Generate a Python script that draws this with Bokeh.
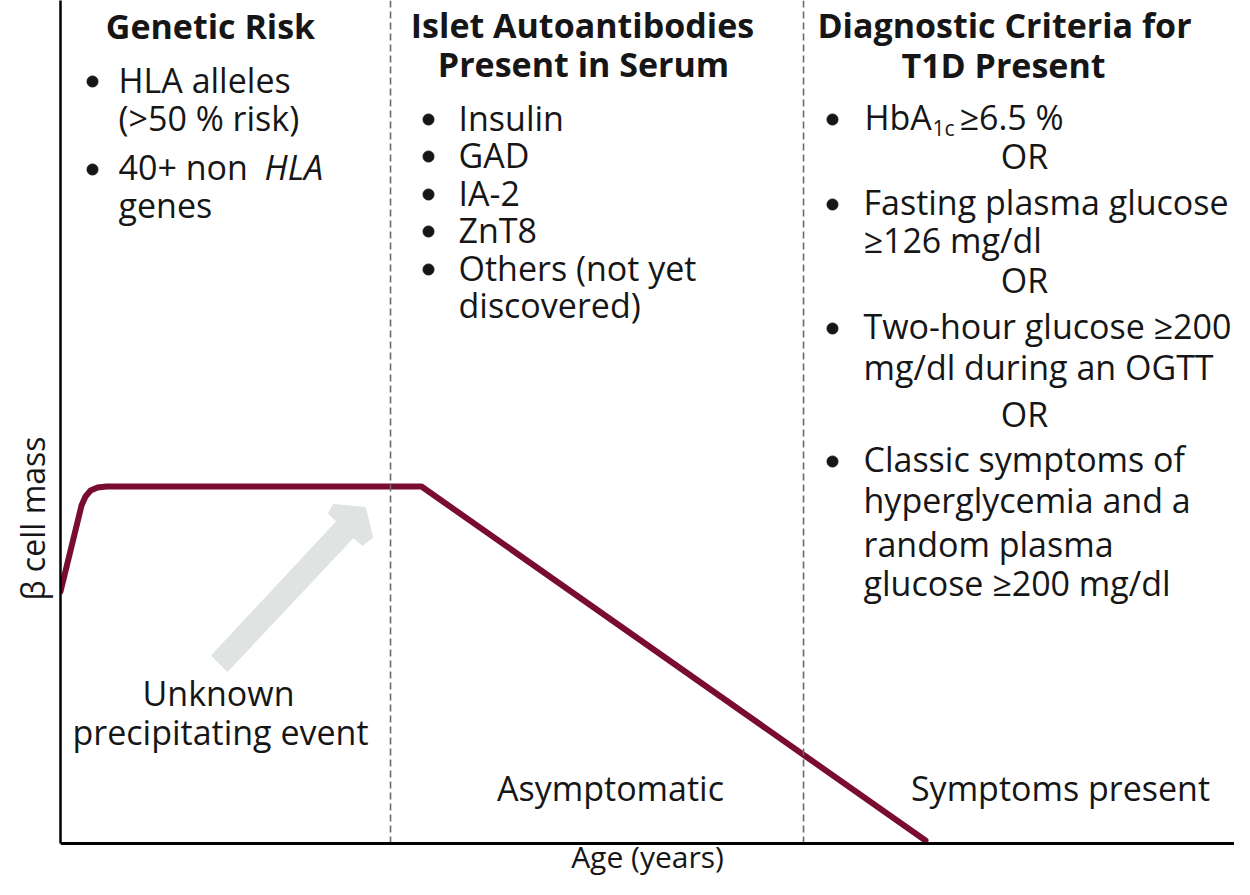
from bokeh.plotting import figure
from bokeh.models import Range1d, FixedTicker, Title
from bokeh.core.properties import value
from bokeh.embed import file_html
from bokeh.resources import INLINE

# ---------------- data (age and beta-cell mass in % of axis length) ----------------
curve_age = [0.0, 1.79, 2.13, 2.56, 3.15, 3.92, 30.75, 73.68]
curve_mass = [29.89, 40.09, 41.16, 41.87, 42.23, 42.35, 42.35, 0.36]

phase_boundaries = [28.11, 63.29]

arrow_age = [12.86, 23.51, 22.83, 23.25, 25.98, 26.58, 25.72, 24.96, 14.22]
arrow_mass = [22.30, 38.20, 39.15, 40.21, 39.86, 36.30, 35.35, 36.30, 20.40]

heading_genetic = ["Genetic Risk"]
heading_auto = ["Islet Autoantibodies", "Present in Serum"]
heading_diag = ["Diagnostic Criteria for", "T1D Present"]

genetic_lines = ["HLA alleles", "(>50 % risk)", "40+ non", "genes"]
genetic_italic = "HLA"
auto_lines = ["Insulin", "GAD", "IA-2", "ZnT8", "Others (not yet", "discovered)"]
diag_hba = ["HbA", "1c", "≥6.5 %"]
diag_lines = ["Fasting plasma glucose", "≥126 mg/dl", "Two-hour glucose ≥200",
              "mg/dl during an OGTT", "Classic symptoms of", "hyperglycemia and a",
              "random plasma", "glucose ≥200 mg/dl"]
or_text = "OR"
event_lines = ["Unknown", "precipitating event"]
phase_labels = ["Asymptomatic", "Symptoms present"]
x_label = "Age (years)"
y_label = "β cell mass"

# ---------------- layout helpers (pixel -> data) ----------------
def X(px):
    return (px - 60) / 11.74

def Y(py):
    return (843 - py) / 8.43

FONT = "Open Sans"
TXT = "#161616"
FS = 34

p = figure(width=1234, height=879, x_range=Range1d(0, 100), y_range=Range1d(Y(879), 100),
           output_backend="svg", toolbar_location=None,
           min_border_left=60, min_border_right=0, min_border_top=0, min_border_bottom=0)
p.outline_line_color = None
p.xgrid.grid_line_color = None
p.ygrid.grid_line_color = None
p.background_fill_color = "white"
p.border_fill_color = "white"

for ax in (p.xaxis, p.yaxis):
    ax.ticker = FixedTicker(ticks=[])
    ax.major_tick_line_color = None
    ax.minor_tick_line_color = None
    ax.major_tick_out = 0
    ax.major_tick_in = 0
    ax.minor_tick_out = 0
    ax.minor_tick_in = 0
    ax.major_label_text_font_size = "0px"
    ax.axis_line_color = "black"

p.xaxis.fixed_location = 0
p.xaxis.axis_line_width = 3
p.xaxis.axis_label = x_label
p.xaxis.axis_label_text_font = FONT
p.xaxis.axis_label_text_font_size = "30px"
p.xaxis.axis_label_text_font_style = "normal"
p.xaxis.axis_label_text_color = TXT
p.xaxis.axis_label_standoff = -8

p.yaxis.bounds = (0, 100)
p.yaxis.axis_line_width = 2.5

p.add_layout(Title(text=y_label, align="left", offset=279, text_font=FONT,
                   text_font_size="32px", text_font_style="normal",
                   text_color=TXT, standoff=14), "left")

# arrow
p.patch(arrow_age, arrow_mass, fill_color="#dfe3e1", line_color="#dfe3e1", line_width=1)

# curve
p.line(curve_age, curve_mass, line_color="#7a0d2f", line_width=6,
       line_join="round", line_cap="round")

# phase boundaries
p.segment(x0=phase_boundaries, y0=[0] * len(phase_boundaries),
          x1=phase_boundaries, y1=[100] * len(phase_boundaries),
          line_color="#6a6a6a", line_width=1.6, line_dash="7 4")


def T(px, py, s, size=FS, style="normal", align="left"):
    # py is the wanted baseline; compensate for the renderer's baseline offset
    p.text(x=[X(px)], y=[Y(py - 0.41 * size)], text=[s], text_font=value(FONT),
           text_font_size=f"{size}px",
           text_font_style=style, text_align=align, text_baseline="alphabetic",
           text_color=TXT)


def bullets(px, pys):
    p.scatter(x=[X(px)] * len(pys), y=[Y(v) for v in pys], size=11,
              marker="circle", fill_color=TXT, line_color=TXT)

# column 1
T(210, 39, heading_genetic[0], style="bold", align="center")
bullets(92, [81, 169])
for s, b in zip(genetic_lines, [93, 131, 180, 218]):
    T(118, b, s)
T(264, 180, genetic_italic, style="italic")

# column 2
T(582, 38, heading_auto[0], style="bold", align="center")
T(583, 77, heading_auto[1], style="bold", align="center")
bullets(428, [119, 156, 194, 231, 269])
for s, b in zip(auto_lines, [131, 168, 206, 243, 281, 318]):
    T(458, b, s)

# column 3
T(1004, 38, heading_diag[0], style="bold", align="center")
T(1003, 78, heading_diag[1], style="bold", align="center")
bullets(832, [119, 204, 328, 461])
T(864, 130, diag_hba[0])
T(932, 136, diag_hba[1], size=21)
T(959, 130, diag_hba[2])
for b in [169, 293, 427]:
    T(1024, b, or_text, align="center")
for s, b in zip(diag_lines, [215, 253, 339, 380, 472, 513, 557, 596]):
    T(863, b, s)

# bottom labels
T(218, 706, event_lines[0], align="center")
T(220, 745, event_lines[1], align="center")
T(610, 801, phase_labels[0], align="center")
T(1060, 801, phase_labels[1], align="center")

open("out.html", "w").write(file_html(p, INLINE))
